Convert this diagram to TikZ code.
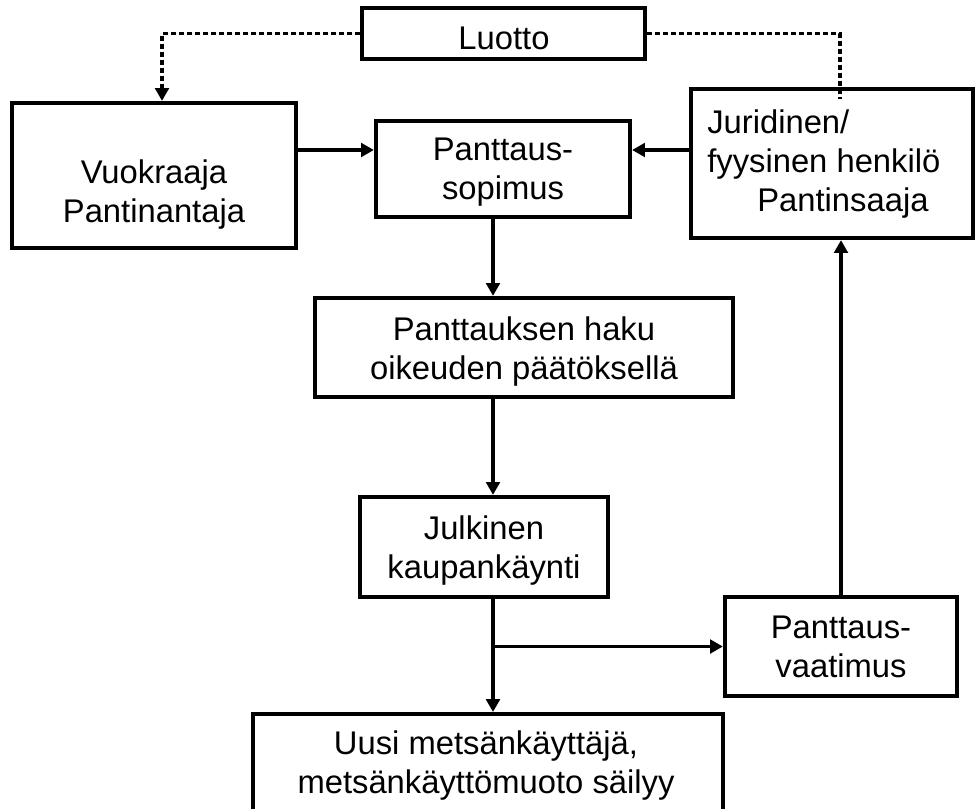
\documentclass[tikz,border=0pt]{standalone}
\usepackage{fontspec}
\setmainfont{Liberation Sans}
\usetikzlibrary{arrows.meta}

\tikzset{
  box/.style={draw, line width=3pt, inner sep=0pt},
  lbl/.style={inner sep=0pt, anchor=base, align=center, font=\fontsize{23.3}{27.6}\selectfont},
  arr/.style={line width=2.35pt, -{Triangle[length=3.2mm,width=3.4mm]}},
  credit/.style={line width=2.8pt, dash pattern=on 1.25mm off 0.75mm},
}

\begin{document}
\begin{tikzpicture}[x=0.025cm, y=-0.025cm]
    \useasboundingbox (0,0) rectangle (975,809);
    % boxes
    \node[box, minimum width=7.075cm, minimum height=1.275cm] (luotto) at (503.5,33.5) {};
    \node[box, minimum width=7.1cm, minimum height=3.625cm] (vuok) at (154,175.5) {};
    \node[box, minimum width=6.35cm, minimum height=2.4cm] (sopimus) at (503,169) {};
    \node[box, minimum width=7.05cm, minimum height=3.725cm] (jurid) at (832,163.5) {};
    \node[box, minimum width=10.45cm, minimum height=2.475cm] (haku) at (524,347.5) {};
    \node[box, minimum width=6.2cm, minimum height=2.5cm] (julk) at (484,547) {};
    \node[box, minimum width=5.8cm, minimum height=2.475cm] (vaat) at (841,646.5) {};
    \node[box, minimum width=11.75cm, minimum height=4cm, anchor=north] (uusi) at (488,712) {};
    % texts (base = last line)
    \node[lbl] (t-luotto) at (504,50) {Luotto};
    \node[lbl] (t-vuok) at (154,222) {Vuokraaja\\Pantinantaja};
    \node[lbl] (t-sopimus) at (503,199) {Panttaus-\\sopimus};
    \node[lbl, align=left, anchor=base west] (t-jurid) at (707,211) {Juridinen/\\fyysinen henkilö\\\hspace*{1.25cm}Pantinsaaja};
    \node[lbl] (t-haku) at (524,379) {Panttauksen haku\\oikeuden päätöksellä};
    \node[lbl] (t-julk) at (484,578) {Julkinen\\kaupankäynti};
    \node[lbl] (t-vaat) at (841,677) {Panttaus-\\vaatimus};
    \node[lbl] (t-uusi) at (486,793) {Uusi metsänkäyttäjä,\\metsänkäyttömuoto säilyy};
    % helper lines
    \coordinate (row) at (0,150);
    \coordinate (col) at (493,0);
    \coordinate (drop) at (840,99);
    % credit
    \draw[credit, -{Triangle[length=3.2mm,width=3.4mm]}] (luotto.west) -| ([xshift=0.2cm]vuok.north);
    \draw[credit] (luotto.east) -| (drop);
    % flow
    \draw[arr] (vuok.east |- row) -- (sopimus.west |- row);
    \draw[arr] (jurid.west |- row) -- (sopimus.east |- row);
    \draw[arr] (sopimus.south -| col) -- (haku.north -| col);
    \draw[arr] (haku.south -| col) -- (julk.north -| col);
    \draw[arr] (julk.south -| col) -- (uusi.north -| col);
    \draw[arr] (col |- vaat.west) -- (vaat.west);
    \draw[arr] (vaat.north) -- (vaat.north |- jurid.south);
\end{tikzpicture}
\end{document}
